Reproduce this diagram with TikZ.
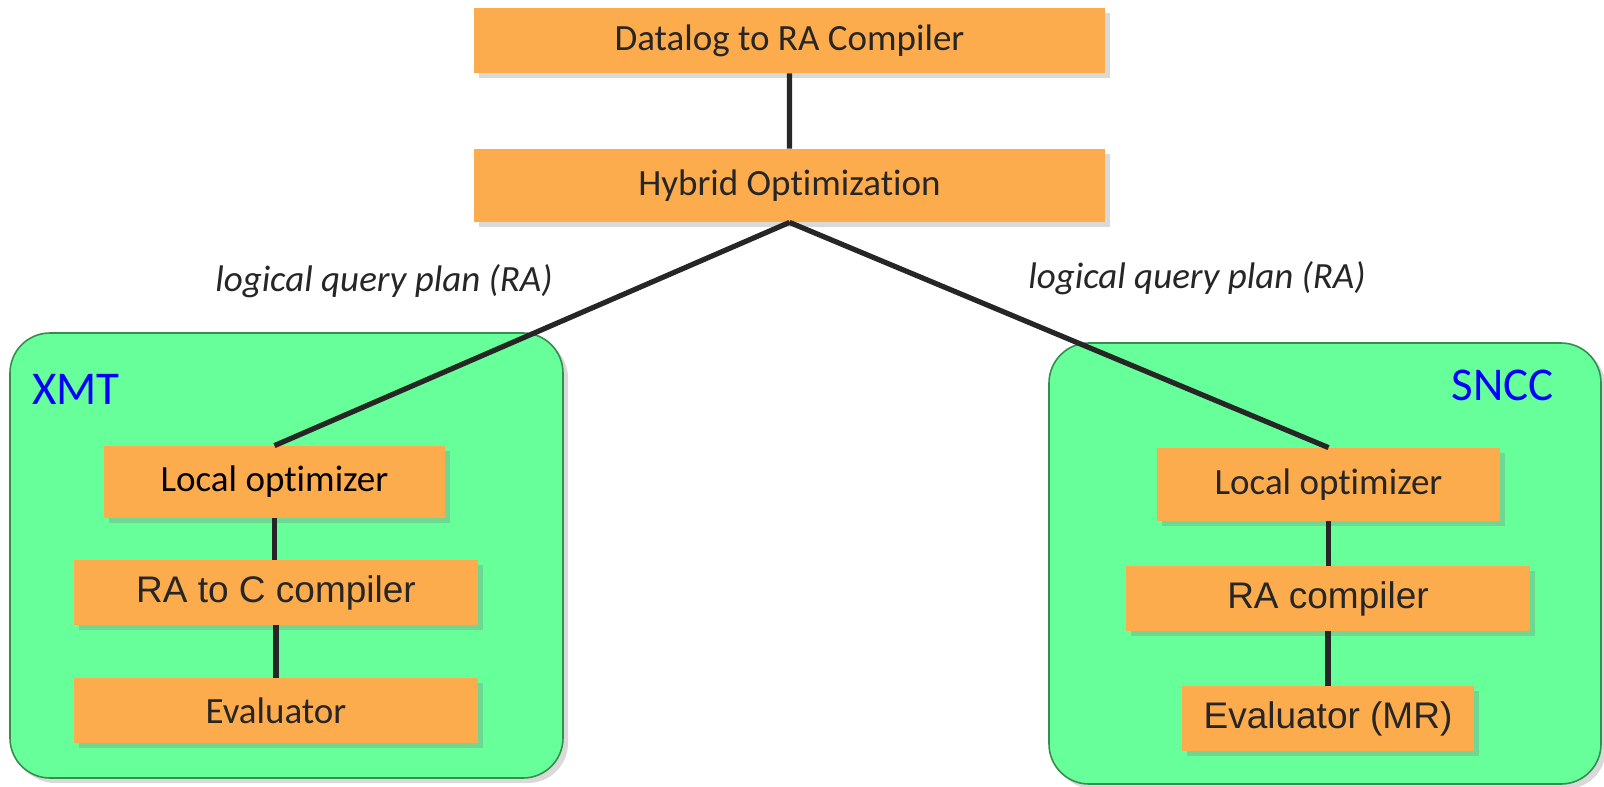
\documentclass[tikz,border=0pt]{standalone}
\usepackage{fontspec}
\setmainfont{Carlito}[Ligatures=NoCommon]
\newfontfamily\arialfont{Liberation Sans}
\usetikzlibrary{shadows}
\definecolor{boxorange}{RGB}{252,172,77}
\definecolor{boxgreen}{RGB}{102,255,153}
\definecolor{edgegreen}{RGB}{55,140,80}
\definecolor{ink}{RGB}{38,38,38}

\begin{document}
\begin{tikzpicture}[x=0.5pt, y=-0.5pt,
        stage/.style={rectangle, fill=boxorange, inner sep=0pt, text=ink,
            font=\fontsize{18.5}{22}\selectfont,
            drop shadow={shadow xshift=2.5pt, shadow yshift=-2.5pt, opacity=0.3}},
        target/.style={rectangle, rounded corners=20pt, fill=boxgreen, draw=edgegreen,
            line width=0.8pt, inner sep=0pt,
            drop shadow={shadow xshift=2.5pt, shadow yshift=-2.5pt, opacity=0.3}},
        link/.style={draw=ink, line width=2.6pt},
        plan/.style={text=ink, font=\fontsize{18.5}{22}\selectfont\itshape},
        machine/.style={text=blue, font=\fontsize{23.5}{28}\selectfont}]
        \useasboundingbox (0,0) rectangle (1604,786);

        % containers
        \node[target, minimum width=276.5pt, minimum height=222.5pt] (xmt) at (286.5, 555.5) {};
        \node[target, minimum width=276pt, minimum height=220.5pt] (sncc) at (1325, 563.5) {};
        \node[machine, anchor=west] (xmtname) at (25, 389) {XMT};
        \node[machine, anchor=east] (sncname) at (1561, 385) {SNCC};

        % front end
        \node[stage, minimum width=315.5pt, minimum height=32.5pt] (dlc) at (789.5, 40.5) {Datalog to RA Compiler};
        \node[stage, minimum width=315.5pt, minimum height=36.5pt] (hyb) at (789.5, 185.5) {Hybrid Optimization};

        % XMT side
        \node[stage, minimum width=170.5pt, minimum height=36pt, text=black] (lo1) at (274.5, 482) {Local optimizer};
        \node[stage, minimum width=202pt, minimum height=32.5pt, font=\arialfont\fontsize{18.5}{22}\selectfont] (rac) at (276, 592.5) {RA to C compiler};
        \node[stage, minimum width=202pt, minimum height=32.5pt] (ev1) at (276, 710.5) {Evaluator};

        % SNCC side
        \node[stage, minimum width=171.5pt, minimum height=36.5pt] (lo2) at (1328.5, 484.5) {Local optimizer};
        \node[stage, minimum width=202pt, minimum height=32.5pt, font=\arialfont\fontsize{18.5}{22}\selectfont] (rac2) at (1328, 598.5) {RA compiler};
        \node[stage, minimum width=146pt, minimum height=32.5pt, font=\arialfont\fontsize{18.5}{22}\selectfont] (ev2) at (1328, 718.5) {Evaluator (MR)};

        \node[plan] (qp1) at (384, 281) {logical query plan (RA)};
        \node[plan] (qp2) at (1197, 278) {logical query plan (RA)};

        \draw[link] (dlc) to (hyb)
            (hyb.south) to (lo1.north)
            (hyb.south) to (lo2.north);
        \draw[link] (lo1.south) to (lo1.south |- rac.north)
            (rac) to (ev1)
            (lo2) to (lo2.south |- rac2.north)
            (rac2) to (ev2);
    \end{tikzpicture}
\end{document}
